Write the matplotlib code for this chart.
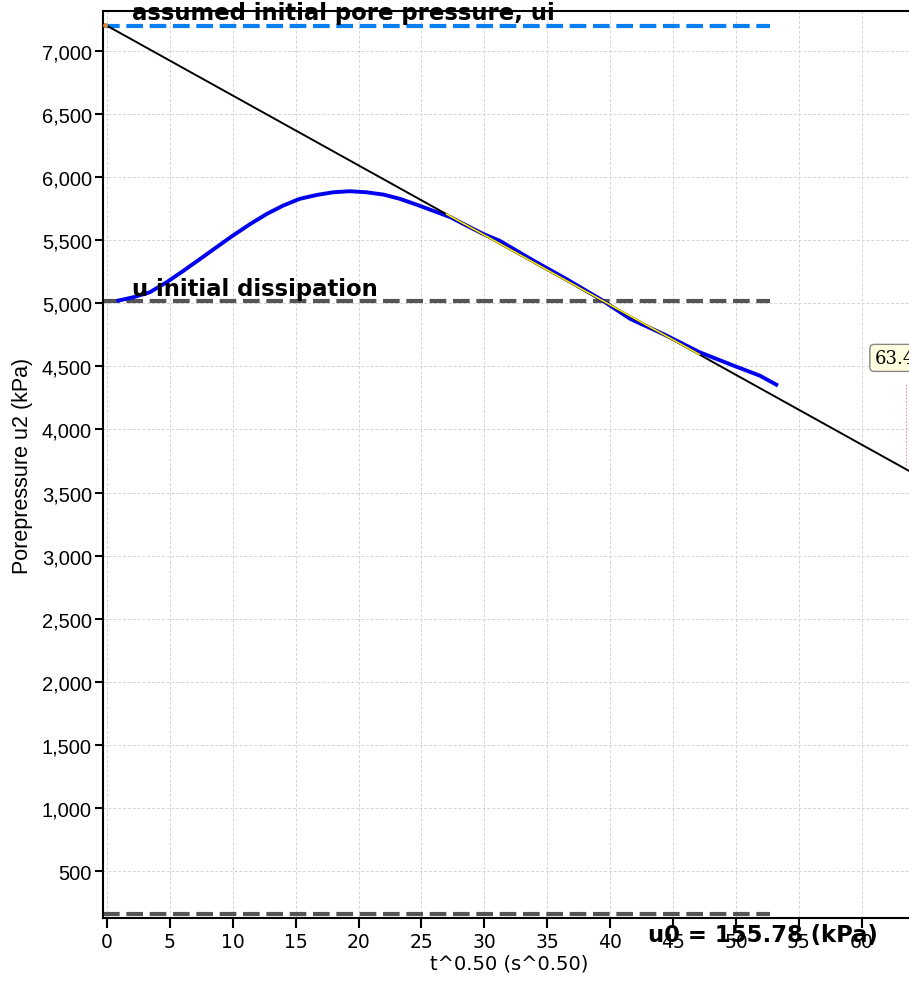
import numpy as np
import matplotlib.pyplot as plt
from matplotlib.ticker import FuncFormatter, MultipleLocator

# measured curve: t^0.5 (s^0.5) vs pore pressure u2 (kPa)
t_sqrt = [0.9, 2.1, 3.4, 4.75, 6.1, 7.4, 8.7, 10.0, 11.4, 12.7, 14.0, 15.3,
          16.7, 18.0, 19.3, 20.6, 22.0, 23.3, 24.6, 25.9, 27.3, 28.6, 29.9,
          31.2, 33.9, 36.5, 39.2, 41.6, 44.5, 47.1, 49.8, 51.9, 53.2]
u2 = [5021, 5048, 5087, 5167, 5259, 5351, 5444, 5536, 5629, 5708, 5774, 5827,
      5859, 5880, 5888, 5880, 5861, 5827, 5782, 5734, 5682, 5615, 5550,
      5496, 5338, 5193, 5034, 4876, 4743, 4612, 4506, 4426, 4355]

# reference levels
ui = 7200
u_init_diss = 5020
u0 = 155.78
level_t = [-0.3, 52.7]

# fitted line through the linear part
fit_t = [-0.15, 64.5]
fit_u = [7208, 3630]
sel_t = [27.0, 47.1]
sel_u = [5706, 4594]

# cursor readout
cursor_t = 63.5
cursor_u = [4358, 3686]
cursor_label = "63.45"

fig = plt.figure(figsize=(9.09, 9.87), dpi=100)
ax = fig.add_axes([103 / 909, 68 / 987, 812 / 909, 907 / 987])

ax.set_xlim(-0.318, 64.23)
ax.set_ylim(127.5, 7316.5)

ax.grid(True, color="#d4d4d4", linestyle=(0, (3, 2)), linewidth=0.7)
ax.set_axisbelow(True)

ax.plot(level_t, [ui, ui], color="#0a7ff0", linewidth=3, linestyle=(0, (4, 1.6)), zorder=2)
ax.plot(level_t, [u_init_diss, u_init_diss], color="#555555", linewidth=3,
        linestyle=(0, (4, 1.6)), zorder=2)
ax.plot(level_t, [u0, u0], color="#555555", linewidth=3, linestyle=(0, (4, 1.6)),
        zorder=2, clip_on=False)

ax.plot(t_sqrt, u2, color="#0000ee", linewidth=2.8, zorder=3)
ax.plot(fit_t, fit_u, color="black", linewidth=1.4, zorder=4)
ax.plot(sel_t, sel_u, color="#f5e61a", linewidth=1.2, zorder=5)
ax.plot([fit_t[0]], [fit_u[0]], marker="o", markersize=2.5, color="#e08a30", zorder=6)

ax.plot([cursor_t, cursor_t], cursor_u, color="#f08080", linewidth=0.6,
        linestyle=(0, (2, 2)), zorder=2)
ax.text(61.0, 4567, cursor_label, fontsize=13, family="DejaVu Serif", va="center",
        ha="left", bbox=dict(boxstyle="round,pad=0.25", fc="#ffffe0", ec="#888888", lw=1),
        clip_on=False, zorder=7)

ax.text(2.0, 7305, "assumed initial pore pressure, ui", fontsize=16.4, fontweight="bold",
        family="DejaVu Sans", va="center", ha="left", clip_on=False, zorder=8)
ax.text(2.0, 5118, "u initial dissipation", fontsize=16.4, fontweight="bold",
        family="DejaVu Sans", va="center", ha="left", zorder=8)
ax.text(43.0, 0, "u0 = 155.78 (kPa)", fontsize=16.4, fontweight="bold",
        family="DejaVu Sans", va="center", ha="left", clip_on=False, zorder=8)

ax.xaxis.set_major_locator(MultipleLocator(5))
ax.set_yticks(np.arange(500, 7001, 500))
ax.yaxis.set_major_formatter(FuncFormatter(lambda v, p: f"{int(v):,}"))

for side in ["left", "bottom", "top"]:
    ax.spines[side].set_linewidth(1.5)
ax.spines["right"].set_visible(False)

ax.tick_params(axis="x", direction="out", length=7, width=1.5, labelsize=13.5, pad=3,
               labelfontfamily="DejaVu Sans")
ax.tick_params(axis="y", direction="out", length=6, width=1.5, labelsize=14.5, pad=2,
               labelfontfamily="Liberation Sans")

ax.set_xlabel("t^0.50 (s^0.50)", fontsize=14, family="DejaVu Sans", labelpad=2)
ax.set_ylabel("Porepressure u2 (kPa)", fontsize=15.5, family="Liberation Sans", labelpad=6)

fig.savefig("out.png", dpi=100)
